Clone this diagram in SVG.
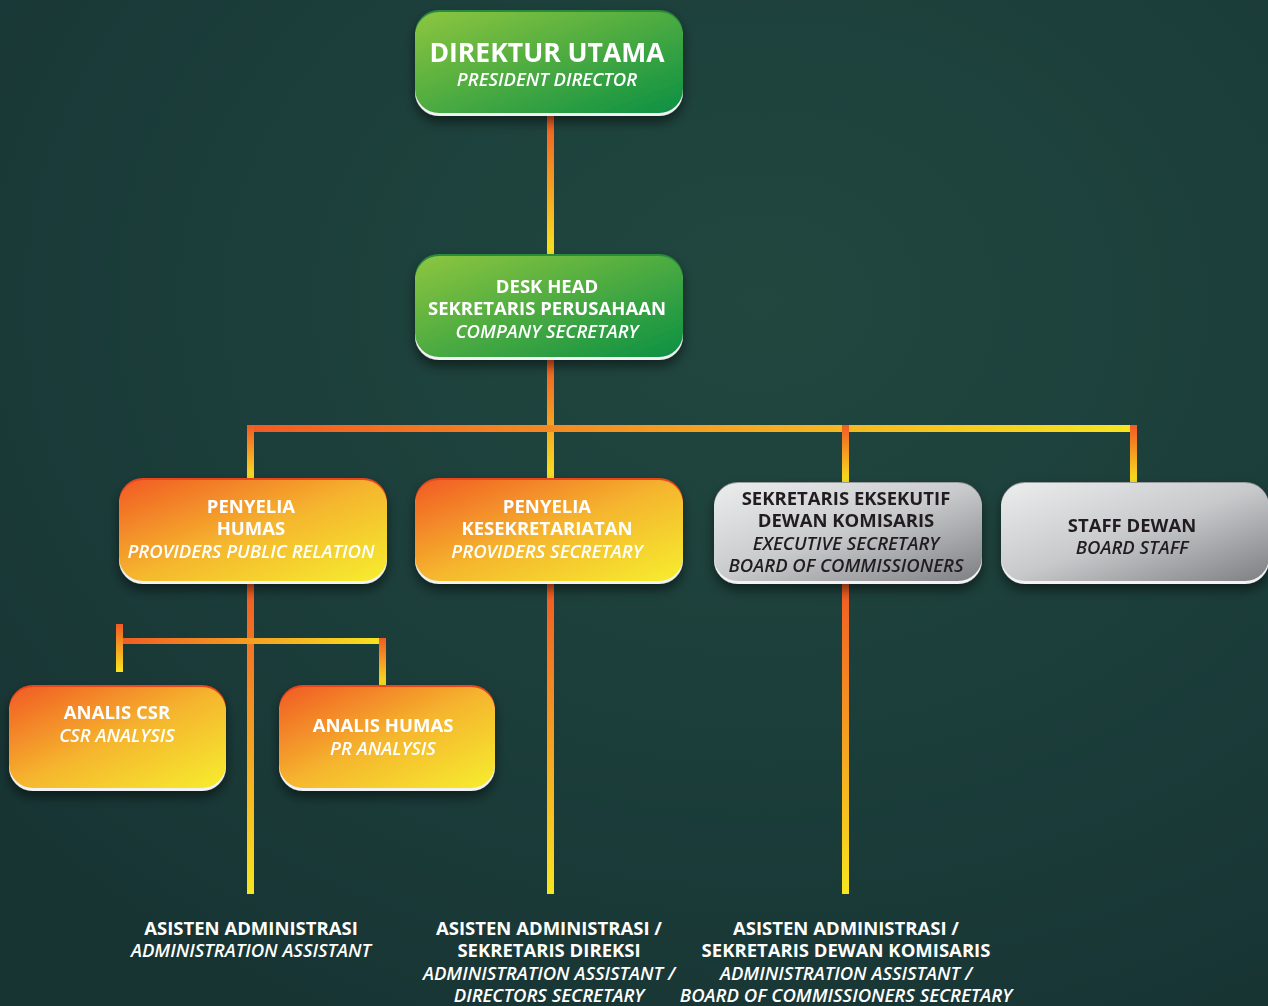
<svg xmlns="http://www.w3.org/2000/svg" width="1268" height="1006" viewBox="0 0 1268 1006">
<defs>
<radialGradient id="bg" cx="0.6" cy="0.3" r="0.8">
<stop offset="0" stop-color="#21473f"/>
<stop offset="0.6" stop-color="#1b3d3a"/>
<stop offset="1" stop-color="#173433"/>
</radialGradient>
<linearGradient id="gGreen" x1="0" y1="0" x2="1" y2="1">
<stop offset="0" stop-color="#8dc63f"/>
<stop offset="1" stop-color="#0b9044"/>
</linearGradient>
<linearGradient id="gOrange" x1="0" y1="0" x2="1" y2="1">
<stop offset="0" stop-color="#f15a24"/>
<stop offset="0.5" stop-color="#f5b52e"/>
<stop offset="1" stop-color="#f6ee2e"/>
</linearGradient>
<linearGradient id="gGray" x1="0" y1="0" x2="1" y2="1">
<stop offset="0" stop-color="#eceded"/>
<stop offset="0.5" stop-color="#c8c9cb"/>
<stop offset="1" stop-color="#7d7f82"/>
</linearGradient>
<linearGradient id="lineV" x1="0" y1="0" x2="0" y2="1">
<stop offset="0" stop-color="#f15a24"/>
<stop offset="1" stop-color="#f8e51f"/>
</linearGradient>
<linearGradient id="lineH" x1="0" y1="0" x2="1" y2="0">
<stop offset="0" stop-color="#f15a24"/>
<stop offset="1" stop-color="#f8e51f"/>
</linearGradient>
<filter id="shadow" x="-20%" y="-20%" width="140%" height="160%">
<feGaussianBlur in="SourceAlpha" stdDeviation="6"/>
<feOffset dx="0" dy="6"/>
<feComponentTransfer><feFuncA type="linear" slope="0.5"/></feComponentTransfer>
<feMerge><feMergeNode/><feMergeNode in="SourceGraphic"/></feMerge>
</filter>
</defs>
<style>
text{font-family:"Open Sans","Liberation Sans",sans-serif;text-anchor:middle;fill:#ffffff}
.b{font-weight:700;font-size:18.5px}
.i{font-style:italic;font-weight:600;font-size:18.5px}
.big{font-weight:700;font-size:26.5px}
.dk{fill:#231f20}
.lip{fill:#f2f2f2}
</style>
<rect width="1268" height="1006" fill="url(#bg)"/>

<g id="connectors">
<rect x="547" y="116" width="7" height="140" fill="url(#lineV)"/>
<rect x="547" y="360" width="7" height="120" fill="url(#lineV)"/>
<rect x="247" y="425" width="889" height="7" fill="url(#lineH)"/>
<rect x="247" y="425" width="7" height="55" fill="url(#lineV)"/>
<rect x="842" y="425" width="7" height="58" fill="url(#lineV)"/>
<rect x="1130" y="425" width="7" height="58" fill="url(#lineV)"/>
<rect x="247" y="584" width="7" height="310" fill="url(#lineV)"/>
<rect x="547" y="584" width="7" height="310" fill="url(#lineV)"/>
<rect x="842" y="584" width="7" height="310" fill="url(#lineV)"/>
<rect x="116" y="638" width="270" height="6" fill="url(#lineH)"/>
<rect x="116" y="624" width="7" height="48" fill="url(#lineV)"/>
<rect x="379" y="638" width="7" height="48" fill="url(#lineV)"/>
</g>

<g id="n-direktur" filter="url(#shadow)">
<rect x="415" y="10" width="268" height="102" rx="24" fill="#2b8a3e"/>
<rect x="415" y="14" width="268" height="102" rx="24" class="lip"/>
<rect x="415" y="12" width="268" height="101" rx="24" fill="url(#gGreen)"/>
<text x="547" y="62" class="big">DIREKTUR UTAMA</text>
<text x="547" y="86" class="i">PRESIDENT DIRECTOR</text>
</g>

<g id="n-deskhead" filter="url(#shadow)">
<rect x="415" y="254" width="268" height="102" rx="24" fill="#2b8a3e"/>
<rect x="415" y="258" width="268" height="102" rx="24" class="lip"/>
<rect x="415" y="256" width="268" height="101" rx="24" fill="url(#gGreen)"/>
<text x="547" y="293" class="b">DESK HEAD</text>
<text x="547" y="315" class="b">SEKRETARIS PERUSAHAAN</text>
<text x="547" y="338" class="i">COMPANY SECRETARY</text>
</g>

<g id="n-humas" filter="url(#shadow)">
<rect x="119" y="478" width="268" height="102" rx="24" fill="#e8461f"/>
<rect x="119" y="482" width="268" height="102" rx="24" class="lip"/>
<rect x="119" y="480" width="268" height="101" rx="24" fill="url(#gOrange)"/>
<text x="251" y="513" class="b">PENYELIA</text>
<text x="251" y="535" class="b">HUMAS</text>
<text x="251" y="558" class="i">PROVIDERS PUBLIC RELATION</text>
</g>

<g id="n-kesekretariatan" filter="url(#shadow)">
<rect x="415" y="478" width="268" height="102" rx="24" fill="#e8461f"/>
<rect x="415" y="482" width="268" height="102" rx="24" class="lip"/>
<rect x="415" y="480" width="268" height="101" rx="24" fill="url(#gOrange)"/>
<text x="547" y="513" class="b">PENYELIA</text>
<text x="547" y="535" class="b">KESEKRETARIATAN</text>
<text x="547" y="558" class="i">PROVIDERS SECRETARY</text>
</g>

<g id="n-sekeks" filter="url(#shadow)">
<rect x="714" y="482" width="268" height="98" rx="24" fill="#9a9b9d"/>
<rect x="714" y="486" width="268" height="98" rx="24" class="lip"/>
<rect x="714" y="483" width="268" height="98" rx="24" fill="url(#gGray)"/>
<text x="846" y="505" class="b dk">SEKRETARIS EKSEKUTIF</text>
<text x="846" y="527" class="b dk">DEWAN KOMISARIS</text>
<text x="846" y="550" class="i dk">EXECUTIVE SECRETARY</text>
<text x="846" y="572" class="i dk">BOARD OF COMMISSIONERS</text>
</g>

<g id="n-staffdewan" filter="url(#shadow)">
<rect x="1001" y="482" width="268" height="98" rx="24" fill="#9a9b9d"/>
<rect x="1001" y="486" width="268" height="98" rx="24" class="lip"/>
<rect x="1001" y="483" width="268" height="98" rx="24" fill="url(#gGray)"/>
<text x="1132" y="532" class="b dk">STAFF DEWAN</text>
<text x="1132" y="554" class="i dk">BOARD STAFF</text>
</g>

<g id="n-analiscsr" filter="url(#shadow)">
<rect x="9" y="685" width="217" height="102" rx="24" fill="#e8461f"/>
<rect x="9" y="689" width="217" height="102" rx="24" class="lip"/>
<rect x="9" y="687" width="217" height="101" rx="24" fill="url(#gOrange)"/>
<text x="117" y="719" class="b">ANALIS CSR</text>
<text x="117" y="742" class="i">CSR ANALYSIS</text>
</g>

<g id="n-analishumas" filter="url(#shadow)">
<rect x="279" y="685" width="216" height="102" rx="24" fill="#e8461f"/>
<rect x="279" y="689" width="216" height="102" rx="24" class="lip"/>
<rect x="279" y="687" width="216" height="101" rx="24" fill="url(#gOrange)"/>
<text x="383" y="732" class="b">ANALIS HUMAS</text>
<text x="383" y="755" class="i">PR ANALYSIS</text>
</g>

<g id="n-asisten1">
<text x="251" y="935" class="b">ASISTEN ADMINISTRASI</text>
<text x="251" y="957" class="i">ADMINISTRATION ASSISTANT</text>
</g>

<g id="n-asisten2">
<text x="549" y="935" class="b">ASISTEN ADMINISTRASI /</text>
<text x="549" y="957" class="b">SEKRETARIS DIREKSI</text>
<text x="549" y="980" class="i">ADMINISTRATION ASSISTANT /</text>
<text x="549" y="1002" class="i">DIRECTORS SECRETARY</text>
</g>

<g id="n-asisten3">
<text x="846" y="935" class="b">ASISTEN ADMINISTRASI /</text>
<text x="846" y="957" class="b">SEKRETARIS DEWAN KOMISARIS</text>
<text x="846" y="980" class="i">ADMINISTRATION ASSISTANT /</text>
<text x="846" y="1002" class="i">BOARD OF COMMISSIONERS SECRETARY</text>
</g>
</svg>
